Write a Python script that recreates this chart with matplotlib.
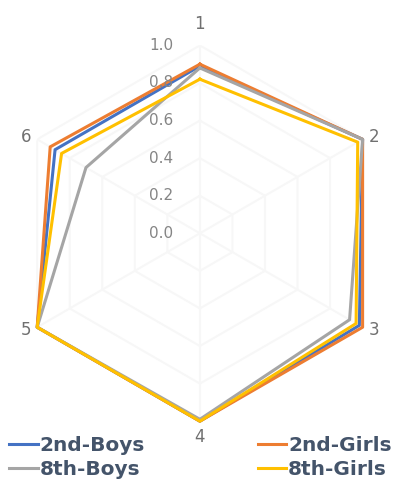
import matplotlib
matplotlib.use("Agg")
import matplotlib.pyplot as plt
import numpy as np

# six survey items, scores scaled 0..1
categories = ["1", "2", "3", "4", "5", "6"]
boys_2nd = [0.89, 1.00, 0.98, 1.00, 1.00, 0.89]
girls_2nd = [0.90, 1.00, 1.00, 1.00, 1.00, 0.92]
boys_8th = [0.88, 1.00, 0.92, 0.99, 1.00, 0.70]
girls_8th = [0.82, 0.97, 0.96, 1.00, 1.00, 0.85]
r_ticks = [0.0, 0.2, 0.4, 0.6, 0.8, 1.0]

series = [
    ("2nd-Boys", boys_2nd, "#4472C4"),
    ("2nd-Girls", girls_2nd, "#ED7D31"),
    ("8th-Boys", boys_8th, "#A5A5A5"),
    ("8th-Girls", girls_8th, "#FFC000"),
]

fig = plt.figure(figsize=(3.97, 4.83), dpi=100)
ax = fig.add_axes([0.030, 0.128, 0.947, 0.778], projection="polar")
ax.set_theta_zero_location("N")
ax.set_theta_direction(-1)
ax.set_ylim(0, 1.0)

n = len(categories)
angles = np.linspace(0, 2 * np.pi, n, endpoint=False)
closed = np.concatenate([angles, angles[:1]])

# hexagonal grid instead of circles, kept very light
ax.grid(False)
ax.spines["polar"].set_visible(False)
for r in r_ticks[1:]:
    ax.plot(closed, [r] * (n + 1), color="#f7f7f7", lw=1.5, zorder=0)
for a in angles:
    ax.plot([a, a], [0, 1.0], color="#f7f7f7", lw=1.5, zorder=0)

handles = {}
for name, vals, color in series:
    line, = ax.plot(closed, vals + vals[:1], color=color, lw=2.2,
                    clip_on=False, zorder=3)
    handles[name] = line

ax.set_yticks(r_ticks)
ax.set_yticklabels([])
for r in r_ticks:
    ax.annotate(f"{r:.1f}", xy=(0, r), xytext=(-19, 0),
                textcoords="offset points", ha="right", va="center",
                fontsize=11, color="#858585")

# category labels just outside each corner
ax.set_xticks(angles)
ax.set_xticklabels([])
for a, lab in zip(angles, categories):
    s, c = np.sin(a), np.cos(a)
    if abs(s) < 1e-6:
        dx, dy = 0, (15.5 if c > 0 else -11.5)
    else:
        dx, dy = 8 * np.sign(s), 2 * np.sign(c)
    ax.annotate(lab, xy=(a, 1.0), xytext=(dx, dy), textcoords="offset points",
                ha="center", va="center", fontsize=12, color="#707070")

order = ["2nd-Boys", "8th-Boys", "2nd-Girls", "8th-Girls"]
fig.legend([handles[k] for k in order], order, loc="lower center",
           bbox_to_anchor=(0.505, -0.03), ncol=2, frameon=False,
           columnspacing=5.6, handlelength=1.4, handletextpad=0.1,
           labelspacing=0.28,
           prop={"size": 14.5, "weight": "bold"}, labelcolor="#44546A")

fig.savefig("out.png", dpi=100)
